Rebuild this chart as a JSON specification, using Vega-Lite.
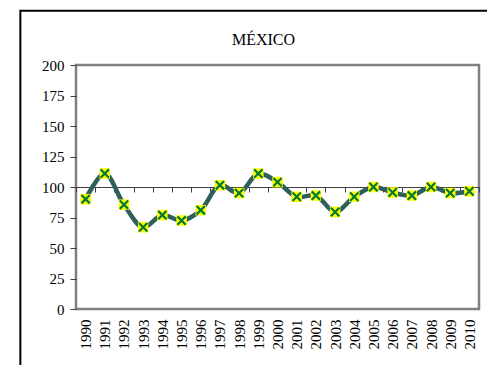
{
  "$schema": "https://vega.github.io/schema/vega-lite/v6.json",
  "width": 403,
  "height": 244,
  "autosize": {"type": "none"},
  "padding": {"left": 76, "top": 65, "right": 8, "bottom": 56},
  "background": "white",
  "title": {
    "text": "MÉXICO",
    "font": "Liberation Serif",
    "fontSize": 16,
    "fontWeight": "normal",
    "color": "black",
    "anchor": "middle",
    "dx": -14,
    "offset": -38
  },
  "config": {
    "font": "Liberation Serif",
    "view": {"stroke": "#808080", "strokeWidth": 2.5},
    "axis": {"labelFont": "Liberation Serif", "labelFontSize": 15, "labelColor": "black", "grid": false}
  },
  "data": {
    "values": [
      {"year": 1990, "value": 90},
      {"year": 1991, "value": 111},
      {"year": 1992, "value": 85.5},
      {"year": 1993, "value": 67},
      {"year": 1994, "value": 77},
      {"year": 1995, "value": 72.5},
      {"year": 1996, "value": 81},
      {"year": 1997, "value": 101.5},
      {"year": 1998, "value": 95},
      {"year": 1999, "value": 111},
      {"year": 2000, "value": 104},
      {"year": 2001, "value": 92},
      {"year": 2002, "value": 93},
      {"year": 2003, "value": 79.5},
      {"year": 2004, "value": 92},
      {"year": 2005, "value": 100},
      {"year": 2006, "value": 95.5},
      {"year": 2007, "value": 93},
      {"year": 2008, "value": 100},
      {"year": 2009, "value": 95},
      {"year": 2010, "value": 96.5}
    ]
  },
  "layer": [
    {
      "mark": {"type": "line", "interpolate": "catmull-rom", "color": "#2F5F5A", "strokeWidth": 4.5, "clip": false},
      "encoding": {
        "x": {
          "field": "year", "type": "quantitative",
          "scale": {"domain": [1989.5, 2010.5], "nice": false, "zero": false},
          "axis": {
            "orient": "bottom", "title": null, "values": [1990,1991,1992,1993,1994,1995,1996,1997,1998,1999,2000,2001,2002,2003,2004,2005,2006,2007,2008,2009,2010],
            "format": "d", "labelAngle": -90, "labelPadding": 10, "ticks": false, "domain": false, "labelOverlap": false, "labelFlush": false,
            "labelFont": "Liberation Serif", "labelFontSize": 15, "labelColor": "black"
          }
        },
        "y": {
          "field": "value", "type": "quantitative",
          "scale": {"domain": [0, 200], "nice": false},
          "axis": {"orient": "left", "title": null, "values": [0,25,50,75,100,125,150,175,200], "domain": false, "tickColor": "#404040", "tickSize": 6, "labelPadding": 6,
            "labelFont": "Liberation Serif", "labelFontSize": 15, "labelColor": "black", "labelOverlap": false, "grid": false}
        }
      }
    },
    {
      "mark": {"type": "point", "shape": "square", "filled": true, "color": "#FFFF00", "size": 110, "opacity": 1},
      "encoding": {
        "x": {
          "field": "year", "type": "quantitative",
          "axis": {
            "orient": "bottom", "title": null, "offset": -122, "labels": false,
            "values": [1989.5,1990.5,1991.5,1992.5,1993.5,1994.5,1995.5,1996.5,1997.5,1998.5,1999.5,2000.5,2001.5,2002.5,2003.5,2004.5,2005.5,2006.5,2007.5,2008.5,2009.5,2010.5],
            "domain": true, "domainColor": "#404040", "domainWidth": 1, "ticks": true, "tickColor": "#404040", "tickSize": 5, "grid": false
          }
        },
        "y": {"field": "value", "type": "quantitative", "axis": null}
      }
    },
    {
      "mark": {"type": "point", "shape": "M-1,-1L1,1M1,-1L-1,1", "filled": false, "color": "#007A30", "strokeWidth": 2.2, "size": 70, "opacity": 1},
      "encoding": {
        "x": {"field": "year", "type": "quantitative", "axis": null},
        "y": {"field": "value", "type": "quantitative", "axis": null}
      }
    },
    {
      "data": {"values": [{}]},
      "mark": {"type": "rect", "fill": null, "stroke": "black", "strokeWidth": 2, "clip": false},
      "encoding": {
        "x": {"datum": 1986.6, "axis": null},
        "x2": {"datum": 2030},
        "y": {"datum": 244.5, "axis": null},
        "y2": {"datum": -200}
      }
    }
  ],
  "resolve": {"axis": {"x": "independent", "y": "independent"}}
}
